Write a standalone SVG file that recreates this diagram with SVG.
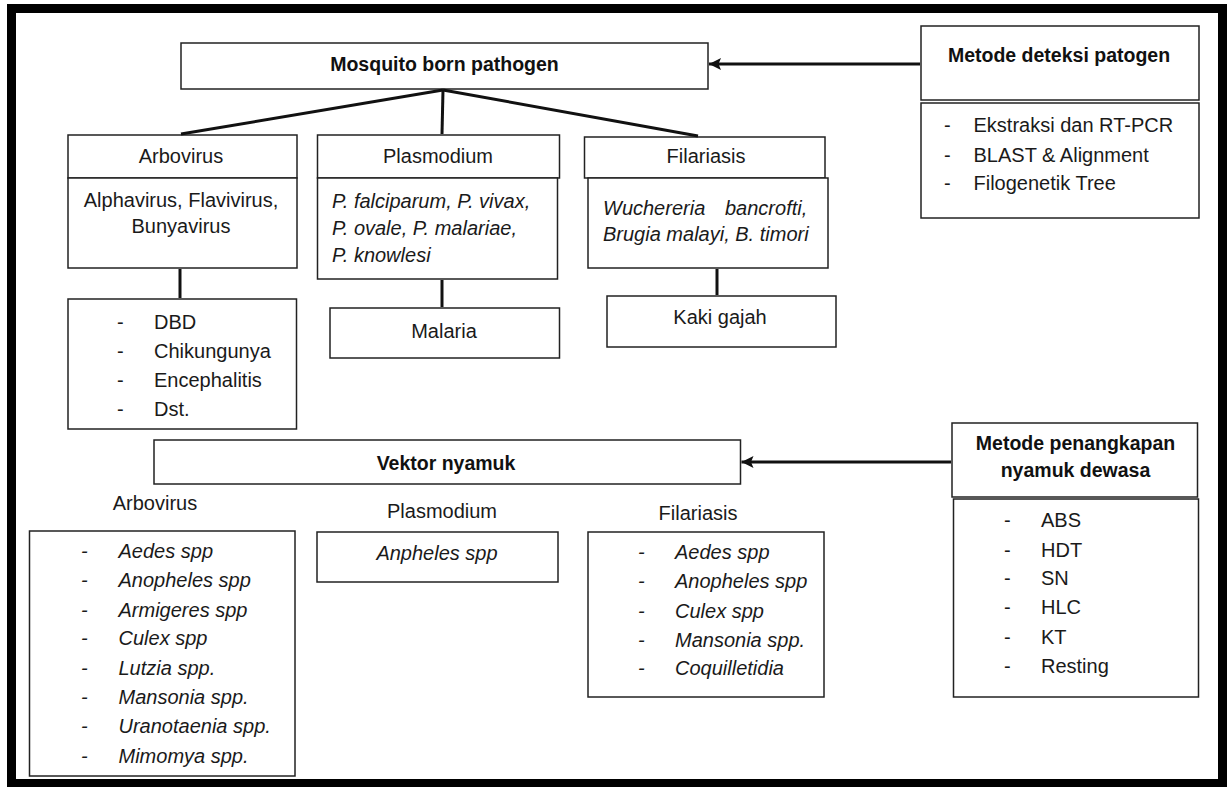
<svg xmlns="http://www.w3.org/2000/svg" width="1230" height="787" viewBox="0 0 1230 787">
<style>
  .box{fill:#fff;stroke:#222;stroke-width:1.5}
  .t{font-family:"Liberation Sans",Arial,sans-serif;font-size:20px;fill:#1a1a1a}
  .b{font-family:"Liberation Sans",Arial,sans-serif;font-size:19.5px;font-weight:bold;fill:#111}
  .i{font-style:italic}
  .c{text-anchor:middle}
  .conn{stroke:#111;stroke-width:3;fill:none}
</style>
<defs>
  <marker id="ah" markerUnits="userSpaceOnUse" markerWidth="13" markerHeight="12" refX="12" refY="6" orient="auto">
    <path d="M0,0 L12,6 L0,12 L2.5,6 Z" fill="#111"/>
  </marker>
</defs>
<rect x="11.5" y="8.5" width="1211" height="775" fill="#fff" stroke="#000" stroke-width="9"/>

<g id="mosquito-born-pathogen">
  <rect class="box" x="181" y="43" width="527" height="46"/>
  <text class="b c" x="444.5" y="71">Mosquito born pathogen</text>
</g>

<g id="metode-deteksi">
  <rect class="box" x="921" y="26" width="278" height="74"/>
  <text class="b c" x="1059" y="62">Metode deteksi patogen</text>
  <rect class="box" x="921" y="103" width="278" height="115"/>
  <text class="t"><tspan x="944" y="132">-</tspan><tspan x="973.5" y="132">Ekstraksi dan RT-PCR</tspan></text>
  <text class="t"><tspan x="944" y="162">-</tspan><tspan x="973.5" y="162">BLAST &amp; Alignment</tspan></text>
  <text class="t"><tspan x="944" y="190">-</tspan><tspan x="973.5" y="190">Filogenetik Tree</tspan></text>
</g>

<g id="arbovirus">
  <rect class="box" x="68" y="135" width="229" height="43"/>
  <text class="t c" x="181" y="163">Arbovirus</text>
  <rect class="box" x="68" y="178" width="229" height="90"/>
  <text class="t c" x="181" y="207">Alphavirus, Flavivirus,</text>
  <text class="t c" x="181" y="233">Bunyavirus</text>
</g>

<g id="plasmodium">
  <rect class="box" x="317.5" y="135" width="242" height="43"/>
  <text class="t c" x="438" y="163">Plasmodium</text>
  <rect class="box" x="317.5" y="178" width="240" height="101"/>
  <text class="t i" x="332" y="208">P. falciparum, P. vivax,</text>
  <text class="t i" x="332" y="235">P. ovale, P. malariae,</text>
  <text class="t i" x="332" y="262">P. knowlesi</text>
</g>

<g id="filariasis">
  <rect class="box" x="584.5" y="137" width="240.5" height="41"/>
  <text class="t c" x="706" y="163">Filariasis</text>
  <rect class="box" x="588" y="178" width="240" height="90"/>
  <text class="t i" x="603" y="215">Wuchereria<tspan x="725">bancrofti,</tspan></text>
  <text class="t i" x="603" y="241">Brugia malayi, B. timori</text>
</g>

<g id="penyakit-arbovirus">
  <rect class="box" x="68" y="299" width="228.5" height="130"/>
  <text class="t"><tspan x="117" y="329">-</tspan><tspan x="154" y="329">DBD</tspan></text>
  <text class="t"><tspan x="117" y="358">-</tspan><tspan x="154" y="358">Chikungunya</tspan></text>
  <text class="t"><tspan x="117" y="387">-</tspan><tspan x="154" y="387">Encephalitis</tspan></text>
  <text class="t"><tspan x="117" y="416">-</tspan><tspan x="154" y="416">Dst.</tspan></text>
</g>

<g id="malaria">
  <rect class="box" x="330" y="308" width="229.5" height="50"/>
  <text class="t c" x="444" y="338">Malaria</text>
</g>

<g id="kaki-gajah">
  <rect class="box" x="607" y="296" width="229" height="51"/>
  <text class="t c" x="720" y="324">Kaki gajah</text>
</g>

<g id="vektor-nyamuk">
  <rect class="box" x="154" y="440" width="586.5" height="44"/>
  <text class="b c" x="446" y="470">Vektor nyamuk</text>
</g>

<g id="metode-penangkapan">
  <rect class="box" x="952" y="423" width="245.5" height="74"/>
  <text class="b c" x="1075.5" y="450">Metode penangkapan</text>
  <text class="b c" x="1075.5" y="477">nyamuk dewasa</text>
  <rect class="box" x="953.5" y="499" width="245" height="198"/>
  <text class="t"><tspan x="1004" y="527">-</tspan><tspan x="1041" y="527">ABS</tspan></text>
  <text class="t"><tspan x="1004" y="557">-</tspan><tspan x="1041" y="557">HDT</tspan></text>
  <text class="t"><tspan x="1004" y="585">-</tspan><tspan x="1041" y="585">SN</tspan></text>
  <text class="t"><tspan x="1004" y="614">-</tspan><tspan x="1041" y="614">HLC</tspan></text>
  <text class="t"><tspan x="1004" y="644">-</tspan><tspan x="1041" y="644">KT</tspan></text>
  <text class="t"><tspan x="1004" y="673">-</tspan><tspan x="1041" y="673">Resting</tspan></text>
</g>

<g id="vektor-arbovirus">
  <text class="t c" x="155" y="510">Arbovirus</text>
  <rect class="box" x="29.5" y="531" width="265.5" height="245"/>
  <text class="t i"><tspan x="81" y="558">-</tspan><tspan x="118.5" y="558">Aedes spp</tspan></text>
  <text class="t i"><tspan x="81" y="587">-</tspan><tspan x="118.5" y="587">Anopheles spp</tspan></text>
  <text class="t i"><tspan x="81" y="617">-</tspan><tspan x="118.5" y="617">Armigeres spp</tspan></text>
  <text class="t i"><tspan x="81" y="645">-</tspan><tspan x="118.5" y="645">Culex spp</tspan></text>
  <text class="t i"><tspan x="81" y="675">-</tspan><tspan x="118.5" y="675">Lutzia spp.</tspan></text>
  <text class="t i"><tspan x="81" y="704">-</tspan><tspan x="118.5" y="704">Mansonia spp.</tspan></text>
  <text class="t i"><tspan x="81" y="733">-</tspan><tspan x="118.5" y="733">Uranotaenia spp.</tspan></text>
  <text class="t i"><tspan x="81" y="763">-</tspan><tspan x="118.5" y="763">Mimomya spp.</tspan></text>
</g>

<g id="vektor-plasmodium">
  <text class="t c" x="442" y="518">Plasmodium</text>
  <rect class="box" x="317" y="532" width="241" height="50"/>
  <text class="t i c" x="437" y="560">Anpheles spp</text>
</g>

<g id="vektor-filariasis">
  <text class="t c" x="698" y="520">Filariasis</text>
  <rect class="box" x="588" y="532" width="236" height="165"/>
  <text class="t i"><tspan x="638" y="559">-</tspan><tspan x="675" y="559">Aedes spp</tspan></text>
  <text class="t i"><tspan x="638" y="588">-</tspan><tspan x="675" y="588">Anopheles spp</tspan></text>
  <text class="t i"><tspan x="638" y="618">-</tspan><tspan x="675" y="618">Culex spp</tspan></text>
  <text class="t i"><tspan x="638" y="647">-</tspan><tspan x="675" y="647">Mansonia spp.</tspan></text>
  <text class="t i"><tspan x="638" y="675">-</tspan><tspan x="675" y="675">Coquilletidia</tspan></text>
</g>

<g id="connectors">
  <line class="conn" x1="443" y1="90" x2="181" y2="134"/>
  <line class="conn" x1="443" y1="90" x2="442" y2="134"/>
  <line class="conn" x1="443" y1="90" x2="698" y2="136"/>
  <line class="conn" x1="180" y1="269" x2="180" y2="298"/>
  <line class="conn" x1="442" y1="280" x2="442" y2="307"/>
  <line class="conn" x1="717" y1="269" x2="717" y2="295"/>
  <line class="conn" x1="920" y1="64" x2="709" y2="64" marker-end="url(#ah)"/>
  <line class="conn" x1="951" y1="462" x2="741.5" y2="462" marker-end="url(#ah)"/>
</g>
</svg>
